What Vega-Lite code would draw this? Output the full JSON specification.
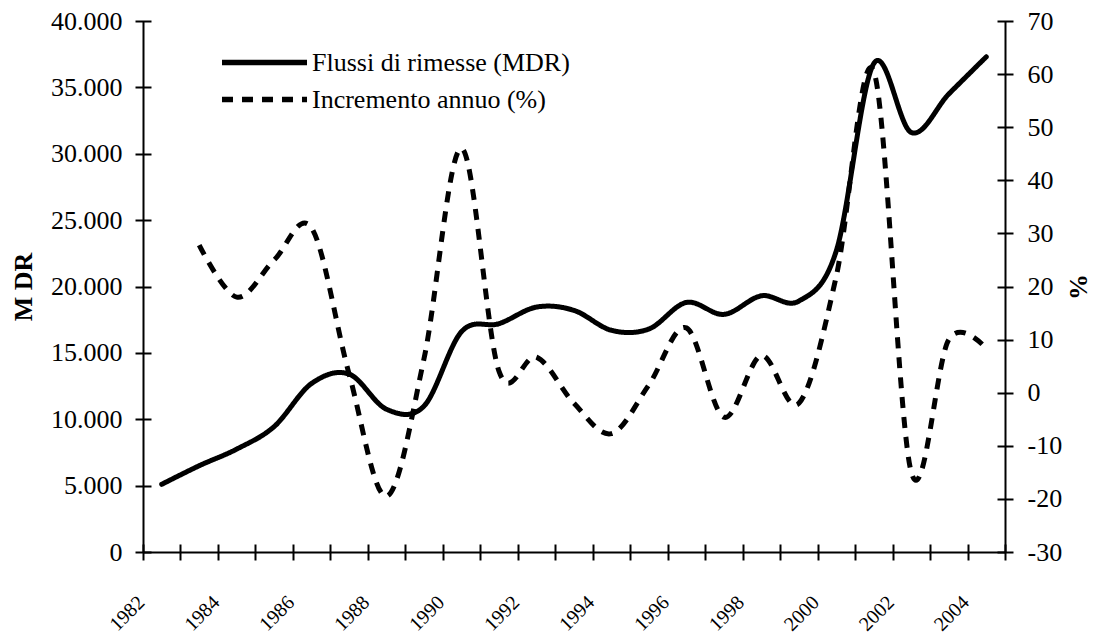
{
  "$schema": "https://vega.github.io/schema/vega-lite/v6.json",
  "autosize": "none",
  "width": 862,
  "height": 531,
  "padding": {"left": 143, "top": 21, "right": 95, "bottom": 82},
  "background": "white",
  "config": {
    "view": {"stroke": null},
    "axis": {
      "labelFont": "Liberation Serif",
      "labelFontSize": 26,
      "labelColor": "black",
      "titleFont": "Liberation Serif",
      "titleFontSize": 26,
      "titleFontWeight": "bold",
      "titleColor": "black",
      "tickColor": "black",
      "tickWidth": 2,
      "domainColor": "black",
      "domainWidth": 2
    }
  },
  "data": {
    "values": [
      {"year": 1982, "mdr": 5100, "pct": null},
      {"year": 1983, "mdr": 6500, "pct": 27.8},
      {"year": 1984, "mdr": 7750, "pct": 18.0},
      {"year": 1985, "mdr": 9450, "pct": 25.0},
      {"year": 1986, "mdr": 12700, "pct": 31.0},
      {"year": 1987, "mdr": 13400, "pct": 3.5},
      {"year": 1988, "mdr": 10750, "pct": -19.5},
      {"year": 1989, "mdr": 11000, "pct": 6.5},
      {"year": 1990, "mdr": 16600, "pct": 46.0},
      {"year": 1991, "mdr": 17200, "pct": 4.0},
      {"year": 1992, "mdr": 18450, "pct": 6.7},
      {"year": 1993, "mdr": 18200, "pct": -2.0},
      {"year": 1994, "mdr": 16700, "pct": -7.7},
      {"year": 1995, "mdr": 16800, "pct": 1.5},
      {"year": 1996, "mdr": 18800, "pct": 12.2},
      {"year": 1997, "mdr": 17900, "pct": -4.6},
      {"year": 1998, "mdr": 19300, "pct": 7.0},
      {"year": 1999, "mdr": 18900, "pct": -2.0},
      {"year": 2000, "mdr": 22700, "pct": 22.0},
      {"year": 2001, "mdr": 36800, "pct": 60.5},
      {"year": 2002, "mdr": 31600, "pct": -15.0},
      {"year": 2003, "mdr": 34500, "pct": 10.0},
      {"year": 2004, "mdr": 37300, "pct": 8.3}
    ]
  },
  "encoding": {
    "x": {
      "field": "year",
      "type": "quantitative",
      "scale": {"domain": [1981.5, 2004.5], "nice": false, "zero": false},
      "axis": {
        "title": null,
        "values": [1981.5, 1982.5, 1983.5, 1984.5, 1985.5, 1986.5, 1987.5, 1988.5, 1989.5, 1990.5, 1991.5, 1992.5, 1993.5, 1994.5, 1995.5, 1996.5, 1997.5, 1998.5, 1999.5, 2000.5, 2001.5, 2002.5, 2003.5, 2004.5],
        "offset": -8,
        "tickSize": 16,
        "domain": false,
        "grid": true,
        "gridColor": "black",
        "gridWidth": 2,
        "gridOpacity": {"condition": {"test": "datum.value == 1981.5 || datum.value == 2004.5", "value": 1}, "value": 0},
        "labelAngle": -45,
        "labelAlign": "right",
        "labelBaseline": "middle",
        "labelFontSize": 20,
        "labelPadding": 39,
        "labelOffset": -2,
        "labelOverlap": false,
        "labelBound": false,
        "labelFlush": false,
        "labelExpr": "(datum.value + 0.5) % 2 == 0 ? toString(datum.value + 0.5) : ''"
      }
    }
  },
  "layer": [
    {
      "mark": {"type": "line", "color": "black", "strokeWidth": 5, "interpolate": "cardinal", "strokeCap": "round"},
      "encoding": {
        "y": {
          "field": "mdr",
          "type": "quantitative",
          "scale": {"domain": [0, 40000], "nice": false},
          "axis": {
            "orient": "left",
            "title": "M DR",
            "titlePadding": 14,
            "values": [0, 5000, 10000, 15000, 20000, 25000, 30000, 35000, 40000],
            "offset": -8,
            "tickSize": 16,
            "domain": false,
            "grid": true,
            "gridColor": "black",
            "gridWidth": 2,
            "gridOpacity": {"condition": {"test": "datum.value == 0", "value": 1}, "value": 0},
            "labelPadding": 13,
            "labelExpr": "replace(format(datum.value, ','), ',', '.')"
          }
        },
        "strokeDash": {
          "datum": "Flussi di rimesse (MDR)",
          "type": "nominal",
          "scale": {"domain": ["Flussi di rimesse (MDR)", "Incremento annuo (%)"], "range": [[1, 0], [11, 9]]},
          "legend": {
            "orient": "none",
            "legendX": 108,
            "legendY": 28,
            "title": null,
            "symbolType": "M-4.1,0H4.1",
            "symbolSize": 430,
            "symbolStrokeWidth": 5.5,
            "symbolStrokeColor": "black",
            "labelFont": "Liberation Serif",
            "labelFontSize": 26,
            "labelColor": "black",
            "labelOffset": 34,
            "labelLimit": 500,
            "rowPadding": 10,
            "encode": {
              "symbols": {"update": {"strokeDash": {"signal": "datum.value === 'Incremento annuo (%)' ? [15, 16] : [1, 0]"}}}
            }
          }
        }
      }
    },
    {
      "mark": {"type": "line", "color": "black", "strokeWidth": 5, "interpolate": "cardinal"},
      "encoding": {
        "y": {
          "field": "pct",
          "type": "quantitative",
          "scale": {"domain": [-30, 70], "nice": false, "zero": false},
          "axis": {
            "orient": "right",
            "title": "%",
            "titleAngle": 270,
            "titlePadding": 30,
            "values": [-30, -20, -10, 0, 10, 20, 30, 40, 50, 60, 70],
            "offset": -8,
            "tickSize": 16,
            "domain": false,
            "grid": false,
            "labelPadding": 14,
            "labelExpr": "toString(datum.value)"
          }
        },
        "strokeDash": {"datum": "Incremento annuo (%)", "type": "nominal"}
      }
    }
  ],
  "resolve": {"scale": {"y": "independent"}}
}
